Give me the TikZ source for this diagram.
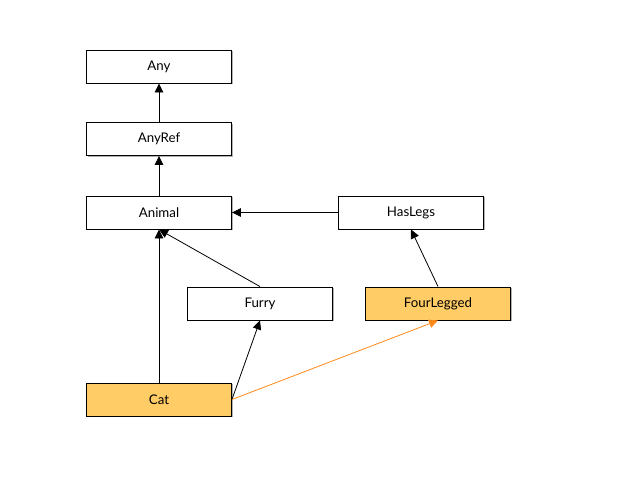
\documentclass[tikz,border=0pt]{standalone}
\usepackage{fontspec}
\setmainfont{Lato}
\usetikzlibrary{arrows.meta,shadows}
\definecolor{boxorange}{HTML}{FFCC66}
\definecolor{linkorange}{HTML}{FF8A1A}
\begin{document}
\begin{tikzpicture}[x=1pt,y=-1pt,
  cls/.style={draw=black, line width=0.9pt, fill=white, minimum width=145pt, minimum height=33pt,
    inner sep=0pt, font=\fontsize{13.3}{15}\selectfont,
    drop shadow={shadow xshift=1.3pt, shadow yshift=-1.3pt, opacity=0.3, fill=black}},
  hl/.style={cls, fill=boxorange},
  inh/.style={draw=black, line width=0.8pt, -{Triangle[length=9pt,width=8.5pt]}},
  inhor/.style={draw=linkorange, line width=0.8pt, -{Triangle[length=9pt,width=8.5pt]}}]
\useasboundingbox (0,0) rectangle (640,480);
\node[cls] (any) at (159,66.5) {Any};
\node[cls] (anyref) at (159,139) {AnyRef};
\node[cls] (animal) at (159,212.5) {Animal};
\node[cls] (haslegs) at (411,212.5) {HasLegs};
\node[cls] (furry) at (260,303.5) {Furry};
\node[hl] (four) at (438,303.5) {FourLegged};
\node[hl] (cat) at (159,399.5) {Cat};
\draw[inh] (anyref.north) -- (any.south);
\draw[inh] (animal.north) -- (anyref.south);
\draw[inh] (haslegs.west) -- (animal.east);
\draw[inh] (furry.north) -- (animal.south);
\draw[inh] (cat.north) -- (animal.south);
\draw[inh] (cat.east) -- (furry.south);
\draw[inh] (four.north) -- (haslegs.south);
\draw[inhor] (cat.east) -- (four.south);
\end{tikzpicture}
\end{document}
